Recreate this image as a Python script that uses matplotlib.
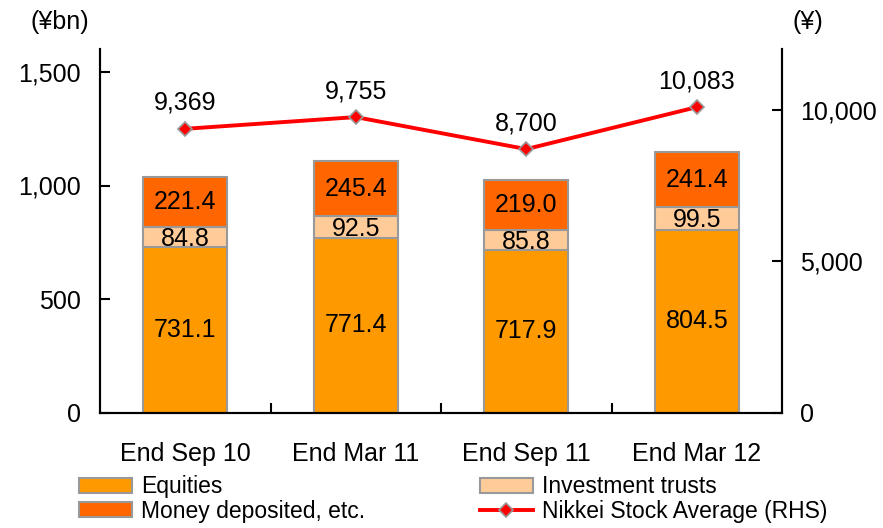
import matplotlib
matplotlib.use("Agg")
import matplotlib.pyplot as plt
import numpy as np

categories = ["End Sep 10", "End Mar 11", "End Sep 11", "End Mar 12"]
equities = [731.1, 771.4, 717.9, 804.5]
inv_trusts = [84.8, 92.5, 85.8, 99.5]
money = [221.4, 245.4, 219.0, 241.4]
nikkei = [9369, 9755, 8700, 10083]

C_EQ = "#FF9900"
C_IT = "#FFCC99"
C_MD = "#FF6600"
EDGE = "#999999"

plt.rcParams['font.family'] = ['Liberation Sans', 'DejaVu Sans']

fig = plt.figure(figsize=(8.83, 5.28), dpi=100)
ax = fig.add_axes([100/883, 1-413/528, 682/883, 364/528])
ax2 = ax.twinx()

x = np.arange(len(categories))
w = 0.49
b1 = ax.bar(x, equities, w, color=C_EQ, edgecolor=EDGE, linewidth=1.5, label="Equities", zorder=2)
b2 = ax.bar(x, inv_trusts, w, bottom=equities, color=C_IT, edgecolor=EDGE, linewidth=1.5,
            label="Investment trusts", zorder=2)
bot3 = [a + b for a, b in zip(equities, inv_trusts)]
b3 = ax.bar(x, money, w, bottom=bot3, color=C_MD, edgecolor=EDGE, linewidth=1.5,
            label="Money deposited, etc.", zorder=2)

fs = 18
for i in range(len(categories)):
    ax.text(x[i], equities[i] / 2, f"{equities[i]:.1f}", ha='center', va='center', fontsize=fs, zorder=5)
    ax.text(x[i], equities[i] + inv_trusts[i] / 2 - 8, f"{inv_trusts[i]:.1f}", ha='center', va='center', fontsize=fs, zorder=5)
    ax.text(x[i], bot3[i] + money[i] / 2, f"{money[i]:.1f}", ha='center', va='center', fontsize=fs, zorder=5)

ln, = ax2.plot(x, nikkei, color="#FF0000", linewidth=2.8, marker='D', markersize=7,
               markerfacecolor="#FF0000", markeredgecolor=EDGE, markeredgewidth=1.2,
               label="Nikkei Stock Average (RHS)", zorder=4)
for i in range(len(categories)):
    ax2.annotate(f"{nikkei[i]:,}", (x[i], nikkei[i]), xytext=(0, 10), textcoords='offset points',
                 ha='center', va='bottom', fontsize=fs)

ax.set_xlim(-0.5, 3.5)
ax.set_ylim(0, 1600)
ax2.set_ylim(0, 12000)
ax.set_yticks([0, 500, 1000, 1500])
ax.set_yticklabels(["0", "500", "1,000", "1,500"], fontsize=fs)
ax2.set_yticks([0, 5000, 10000])
ax2.set_yticklabels(["0", "5,000", "10,000"], fontsize=fs)
ax.set_xticks(x)
ax.set_xticklabels(categories, fontsize=fs)
ax.tick_params(axis='x', length=0, pad=21)
ax.set_xticks([0.5, 1.5, 2.5], minor=True)
ax.tick_params(axis='x', which='minor', direction='in', length=7, width=1.5)
ax.tick_params(axis='y', direction='in', length=7, width=1.5, pad=14)
ax2.tick_params(axis='y', direction='in', length=7, width=1.5, pad=13)

for a in (ax, ax2):
    a.spines['top'].set_visible(False)
    for s in ('left', 'right', 'bottom'):
        a.spines[s].set_linewidth(1.5)

fig.text(60/883, 1-22/528, "(¥bn)", fontsize=fs, ha='center', va='center')
fig.text(808/883, 1-22/528, "(¥)", fontsize=fs, ha='center', va='center')

lfs = 16.5
handles = [b1, b3, b2, ln]
labels = ["Equities", "Money deposited, etc.", "Investment trusts", "Nikkei Stock Average (RHS)"]
fig.legend(handles, labels, loc='lower left', bbox_to_anchor=(68/883, -6/528), ncol=2,
           frameon=False, handlelength=2.3, handleheight=0.6, handletextpad=0.4,
           columnspacing=5.0, labelspacing=0.05, borderpad=0,
           prop={'size': lfs})

fig.savefig("out.png", dpi=100)
